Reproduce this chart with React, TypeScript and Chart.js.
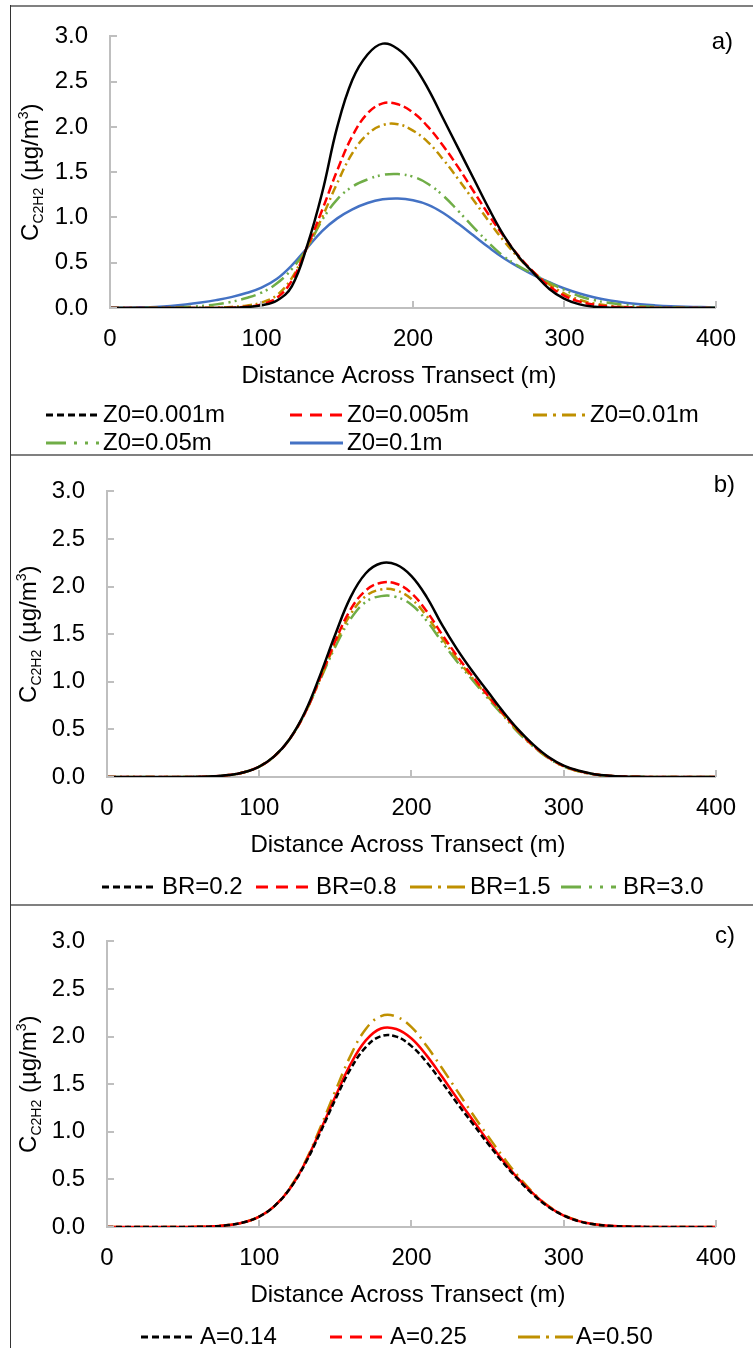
import React, { useEffect, useRef } from 'react';
import { Chart, registerables } from 'chart.js';

Chart.register(...registerables);

const FONT = "'Liberation Sans', Arial, Helvetica, sans-serif";

// ---------- data ----------
const distance = [0, 10, 20, 30, 40, 50, 60, 70, 80, 90, 100, 110, 120, 130, 140, 150, 160, 170, 180, 190, 200, 210, 220, 230, 240, 250, 260, 270, 280, 290, 300, 310, 320, 330, 340, 350, 360, 370, 380, 390, 400];
const xTicks = [0, 100, 200, 300, 400];
const yTicks = [0, 0.5, 1.0, 1.5, 2.0, 2.5, 3.0];

// panel a) roughness length
const z0_0001 = [0, 0, 0, 0, 0, 0, 0, 0, 0.002, 0.01, 0.03, 0.08, 0.24, 0.68, 1.27, 2.0, 2.52, 2.8, 2.92, 2.86, 2.69, 2.42, 2.09, 1.76, 1.43, 1.1, 0.8, 0.56, 0.38, 0.21, 0.1, 0.04, 0.014, 0.004, 0.001, 0, 0, 0, 0, 0, 0];
const z0_0005 = [0, 0, 0, 0, 0, 0, 0, 0.001, 0.004, 0.013, 0.04, 0.11, 0.3, 0.67, 1.08, 1.52, 1.9, 2.15, 2.26, 2.25, 2.16, 2.0, 1.79, 1.55, 1.29, 1.03, 0.79, 0.57, 0.39, 0.24, 0.135, 0.07, 0.035, 0.016, 0.007, 0.003, 0.001, 0, 0, 0, 0];
const z0_001 = [0, 0, 0, 0, 0, 0, 0.002, 0.005, 0.012, 0.026, 0.06, 0.14, 0.33, 0.66, 1.0, 1.38, 1.71, 1.92, 2.02, 2.03, 1.96, 1.83, 1.64, 1.42, 1.19, 0.96, 0.74, 0.55, 0.39, 0.26, 0.16, 0.09, 0.048, 0.024, 0.011, 0.005, 0.002, 0, 0, 0, 0];
const z0_005 = [0, 0, 0.001, 0.003, 0.006, 0.012, 0.022, 0.04, 0.068, 0.11, 0.17, 0.27, 0.43, 0.66, 0.97, 1.2, 1.34, 1.42, 1.47, 1.48, 1.45, 1.37, 1.24, 1.07, 0.89, 0.72, 0.57, 0.46, 0.37, 0.28, 0.2, 0.13, 0.085, 0.055, 0.034, 0.02, 0.012, 0.007, 0.004, 0.002, 0.001];
const z0_01 = [0.002, 0.004, 0.007, 0.012, 0.022, 0.038, 0.06, 0.087, 0.12, 0.165, 0.225, 0.32, 0.47, 0.66, 0.85, 0.99, 1.09, 1.16, 1.2, 1.21, 1.19, 1.14, 1.05, 0.93, 0.8, 0.67, 0.55, 0.45, 0.36, 0.285, 0.215, 0.16, 0.115, 0.082, 0.058, 0.041, 0.029, 0.02, 0.014, 0.01, 0.007];

// panel b) Bowen ratio
const br_02 = [0, 0, 0, 0, 0, 0, 0.002, 0.007, 0.02, 0.05, 0.11, 0.22, 0.4, 0.68, 1.07, 1.5, 1.89, 2.14, 2.245, 2.23, 2.11, 1.89, 1.6, 1.34, 1.11, 0.9, 0.69, 0.5, 0.34, 0.21, 0.12, 0.065, 0.03, 0.013, 0.005, 0.002, 0, 0, 0, 0, 0];
const br_08 = [0, 0, 0, 0, 0, 0, 0.002, 0.007, 0.02, 0.05, 0.11, 0.22, 0.4, 0.67, 1.04, 1.43, 1.76, 1.96, 2.04, 2.03, 1.93, 1.74, 1.5, 1.27, 1.06, 0.86, 0.67, 0.49, 0.33, 0.205, 0.115, 0.062, 0.029, 0.012, 0.005, 0.002, 0, 0, 0, 0, 0];
const br_15 = [0, 0, 0, 0, 0, 0, 0.002, 0.007, 0.02, 0.05, 0.11, 0.22, 0.4, 0.67, 1.03, 1.4, 1.71, 1.9, 1.97, 1.96, 1.87, 1.69, 1.46, 1.24, 1.04, 0.85, 0.66, 0.48, 0.325, 0.2, 0.113, 0.06, 0.028, 0.012, 0.005, 0.002, 0, 0, 0, 0, 0];
const br_30 = [0, 0, 0, 0, 0, 0, 0.002, 0.007, 0.02, 0.05, 0.11, 0.22, 0.4, 0.67, 1.02, 1.37, 1.66, 1.84, 1.9, 1.89, 1.81, 1.64, 1.42, 1.21, 1.02, 0.83, 0.65, 0.47, 0.32, 0.197, 0.11, 0.058, 0.027, 0.012, 0.005, 0.002, 0, 0, 0, 0, 0];

// panel c) albedo
const a_014 = [0, 0, 0, 0, 0, 0, 0.002, 0.007, 0.02, 0.05, 0.11, 0.22, 0.4, 0.66, 0.99, 1.34, 1.66, 1.89, 2.005, 2.0, 1.9, 1.73, 1.52, 1.3, 1.09, 0.88, 0.68, 0.5, 0.34, 0.21, 0.12, 0.06, 0.028, 0.012, 0.005, 0.002, 0, 0, 0, 0, 0];
const a_025 = [0, 0, 0, 0, 0, 0, 0.002, 0.007, 0.02, 0.05, 0.11, 0.22, 0.4, 0.67, 1.01, 1.37, 1.71, 1.96, 2.085, 2.08, 1.98, 1.8, 1.58, 1.35, 1.13, 0.91, 0.7, 0.51, 0.35, 0.215, 0.12, 0.062, 0.029, 0.012, 0.005, 0.002, 0, 0, 0, 0, 0];
const a_050 = [0, 0, 0, 0, 0, 0, 0.002, 0.007, 0.02, 0.05, 0.11, 0.22, 0.41, 0.68, 1.04, 1.43, 1.8, 2.08, 2.215, 2.21, 2.1, 1.9, 1.67, 1.43, 1.19, 0.96, 0.74, 0.535, 0.36, 0.22, 0.125, 0.065, 0.03, 0.013, 0.005, 0.002, 0, 0, 0, 0, 0];

// ---------- styling ----------
const BLACK = '#000000';
const RED = '#ff0000';
const GOLD = '#bf9000';
const GREEN = '#70ad47';
const BLUE = '#4472c4';

const SOLID: number[] = [];
const DASH = [9, 4];
const DASH_DOT = [9, 4, 2, 4];
const LONG_DASH_DOT_DOT = [15, 5, 2, 4, 2, 5];
const SHORT_DASH = [6, 3];
const LONG_DASH_DOT = [14, 6, 2, 6];

const LEG_SHORT = [7, 4];
const LEG_DASH = [12, 8];
const LEG_DASH_DOT = [14, 6, 3, 6];
const LEG_LONG_DASH_DOT = [22, 6, 3, 6];
const LEG_DASH_DOT_DOT = [20, 8, 3, 8, 3, 8];

type Series = { label: string; data: number[]; color: string; dash: number[]; legendDash: number[] };
type LegendItem = { x: number; y: number; idx: number; len: number; gap: number };
type PanelCfg = {
  tag: string;
  top: number;
  height: number;
  plot: { left: number; right: number; top: number; bottom: number };
  xTitle: { x: number; y: number };
  yTitleX: number;
  tagPos: { x: number; y: number };
  legend: LegendItem[];
  series: Series[];
};

const W = 753;
const XAXIS_H = 40;

const panels: PanelCfg[] = [
  {
    tag: 'a)',
    top: 0,
    height: 455,
    plot: { left: 110, right: 728, top: 29, bottom: 308 },
    xTitle: { x: 399, y: 376 },
    yTitleX: 38,
    tagPos: { x: 733, y: 42 },
    legend: [
      { x: 46, y: 415, idx: 0, len: 53, gap: 57 },
      { x: 290, y: 415, idx: 1, len: 53, gap: 57 },
      { x: 533, y: 415, idx: 2, len: 53, gap: 57 },
      { x: 46, y: 443, idx: 3, len: 53, gap: 57 },
      { x: 290, y: 443, idx: 4, len: 53, gap: 57 },
    ],
    series: [
      { label: 'Z0=0.001m', data: z0_0001, color: BLACK, dash: SOLID, legendDash: LEG_SHORT },
      { label: 'Z0=0.005m', data: z0_0005, color: RED, dash: DASH, legendDash: LEG_DASH },
      { label: 'Z0=0.01m', data: z0_001, color: GOLD, dash: DASH_DOT, legendDash: LEG_DASH_DOT },
      { label: 'Z0=0.05m', data: z0_005, color: GREEN, dash: LONG_DASH_DOT_DOT, legendDash: LEG_DASH_DOT_DOT },
      { label: 'Z0=0.1m', data: z0_01, color: BLUE, dash: SOLID, legendDash: SOLID },
    ],
  },
  {
    tag: 'b)',
    top: 455,
    height: 450,
    plot: { left: 107, right: 727, top: 26, bottom: 322 },
    xTitle: { x: 408, y: 390 },
    yTitleX: 36,
    tagPos: { x: 735, y: 30 },
    legend: [
      { x: 102, y: 432, idx: 0, len: 55, gap: 60 },
      { x: 256, y: 432, idx: 1, len: 55, gap: 60 },
      { x: 410, y: 432, idx: 2, len: 55, gap: 60 },
      { x: 561, y: 432, idx: 3, len: 55, gap: 62 },
    ],
    series: [
      { label: 'BR=0.2', data: br_02, color: BLACK, dash: SOLID, legendDash: LEG_SHORT },
      { label: 'BR=0.8', data: br_08, color: RED, dash: DASH, legendDash: LEG_DASH },
      { label: 'BR=1.5', data: br_15, color: GOLD, dash: DASH_DOT, legendDash: LEG_LONG_DASH_DOT },
      { label: 'BR=3.0', data: br_30, color: GREEN, dash: LONG_DASH_DOT_DOT, legendDash: LEG_DASH_DOT_DOT },
    ],
  },
  {
    tag: 'c)',
    top: 905,
    height: 443,
    plot: { left: 107, right: 727, top: 26, bottom: 322 },
    xTitle: { x: 408, y: 390 },
    yTitleX: 36,
    tagPos: { x: 735, y: 31 },
    legend: [
      { x: 141, y: 432, idx: 0, len: 55, gap: 59 },
      { x: 330, y: 432, idx: 1, len: 55, gap: 60 },
      { x: 518, y: 432, idx: 2, len: 55, gap: 58 },
    ],
    series: [
      { label: 'A=0.14', data: a_014, color: BLACK, dash: SHORT_DASH, legendDash: LEG_SHORT },
      { label: 'A=0.25', data: a_025, color: RED, dash: SOLID, legendDash: LEG_DASH },
      { label: 'A=0.50', data: a_050, color: GOLD, dash: LONG_DASH_DOT, legendDash: LEG_LONG_DASH_DOT },
    ],
  },
];

function makeDecor(cfg: PanelCfg) {
  return {
    id: 'decor-' + cfg.tag,
    afterDraw(chart: any) {
      const ctx: CanvasRenderingContext2D = chart.ctx;
      const xs = chart.scales.x;
      const ys = chart.scales.y;
      const area = chart.chartArea;
      ctx.save();
      // inward tick marks
      ctx.strokeStyle = '#bfbfbf';
      ctx.lineWidth = 2;
      ctx.setLineDash([]);
      ctx.beginPath();
      xTicks.forEach((v) => {
        const px = Math.round(xs.getPixelForValue(v));
        ctx.moveTo(px, area.bottom);
        ctx.lineTo(px, area.bottom - 7);
      });
      yTicks.forEach((v) => {
        const py = Math.round(ys.getPixelForValue(v));
        ctx.moveTo(area.left, py);
        ctx.lineTo(area.left + 7, py);
      });
      ctx.stroke();

      ctx.fillStyle = '#000';
      // x title
      ctx.font = `24px ${FONT}`;
      ctx.textAlign = 'center';
      ctx.textBaseline = 'middle';
      ctx.fillText('Distance Across Transect (m)', cfg.xTitle.x, cfg.xTitle.y);

      // panel tag
      ctx.textAlign = 'right';
      ctx.fillText(cfg.tag, cfg.tagPos.x, cfg.tagPos.y);

      // y title with sub/superscripts
      const segs = [
        { t: 'C', size: 24, dy: 0 },
        { t: 'C2H2', size: 14, dy: 5 },
        { t: ' (µg/m', size: 24, dy: 0 },
        { t: '3', size: 14, dy: -10 },
        { t: ')', size: 24, dy: 0 },
      ];
      let total = 0;
      const widths = segs.map((s) => {
        ctx.font = `${s.size}px ${FONT}`;
        const w = ctx.measureText(s.t).width;
        total += w;
        return w;
      });
      const cy = (area.top + area.bottom) / 2;
      ctx.save();
      ctx.translate(cfg.yTitleX, cy);
      ctx.rotate(-Math.PI / 2);
      ctx.textAlign = 'left';
      ctx.textBaseline = 'alphabetic';
      let cx = -total / 2;
      segs.forEach((s, i) => {
        ctx.font = `${s.size}px ${FONT}`;
        ctx.fillText(s.t, cx, s.dy);
        cx += widths[i];
      });
      ctx.restore();

      // legend
      ctx.font = `24px ${FONT}`;
      ctx.textAlign = 'left';
      ctx.textBaseline = 'middle';
      cfg.legend.forEach((it) => {
        const s = cfg.series[it.idx];
        ctx.strokeStyle = s.color;
        ctx.lineWidth = 3;
        ctx.lineCap = 'butt';
        ctx.setLineDash(s.legendDash);
        ctx.beginPath();
        ctx.moveTo(it.x, it.y);
        ctx.lineTo(it.x + it.len, it.y);
        ctx.stroke();
        ctx.setLineDash([]);
        ctx.fillStyle = '#000';
        ctx.fillText(s.label, it.x + it.gap, it.y);
      });
      ctx.restore();
    },
  };
}

function Panel({ cfg }: { cfg: PanelCfg }) {
  const ref = useRef<HTMLCanvasElement | null>(null);
  useEffect(() => {
    if (!ref.current) return;
    const p = cfg.plot;
    const chart = new Chart(ref.current, {
      type: 'line',
      data: {
        datasets: cfg.series.map((s) => ({
          label: s.label,
          data: distance.map((x, i) => ({ x, y: s.data[i] })),
          borderColor: s.color,
          backgroundColor: s.color,
          borderDash: s.dash,
          borderWidth: 2.5,
          pointRadius: 0,
          fill: false,
          tension: 0.4,
          borderCapStyle: 'butt' as const,
        })),
      },
      options: {
        animation: false,
        responsive: true,
        maintainAspectRatio: false,
        layout: {
          padding: { left: 0, top: p.top, right: W - p.right, bottom: cfg.height - p.bottom - XAXIS_H },
        },
        plugins: { legend: { display: false }, tooltip: { enabled: false } },
        scales: {
          x: {
            type: 'linear',
            min: 0,
            max: 400,
            afterFit: (s: any) => {
              s.height = XAXIS_H;
            },
            ticks: { stepSize: 100, color: '#000', font: { size: 24, family: FONT }, padding: 17, maxRotation: 0, autoSkip: false },
            grid: { display: false, drawTicks: false },
            border: { display: true, color: '#bfbfbf', width: 2 },
          },
          y: {
            type: 'linear',
            min: 0,
            max: 3,
            afterFit: (s: any) => {
              s.width = p.left;
            },
            ticks: {
              stepSize: 0.5,
              color: '#000',
              font: { size: 24, family: FONT },
              padding: 22,
              callback: (v: any) => Number(v).toFixed(1),
            },
            grid: { display: false, drawTicks: false },
            border: { display: true, color: '#bfbfbf', width: 2 },
          },
        },
      },
      plugins: [makeDecor(cfg)],
    } as any);
    return () => chart.destroy();
  }, [cfg]);
  return (
    <div style={{ position: 'absolute', left: 0, top: cfg.top, width: W, height: cfg.height }}>
      <canvas ref={ref} />
    </div>
  );
}

export default function App() {
  return (
    <div style={{ position: 'absolute', left: 0, top: 0, width: W, height: 1348, overflow: 'hidden', background: '#fff' }}>
      {panels.map((cfg) => (
        <Panel key={cfg.tag} cfg={cfg} />
      ))}
      <div style={{ position: 'absolute', left: 10, top: 5, width: W, height: 2, background: '#808080' }} />
      <div style={{ position: 'absolute', left: 10, top: 454, width: W, height: 2, background: '#808080' }} />
      <div style={{ position: 'absolute', left: 10, top: 904, width: W, height: 2, background: '#808080' }} />
      <div style={{ position: 'absolute', left: 10, top: 5, width: 1, height: 1343, background: '#333' }} />
    </div>
  );
}
